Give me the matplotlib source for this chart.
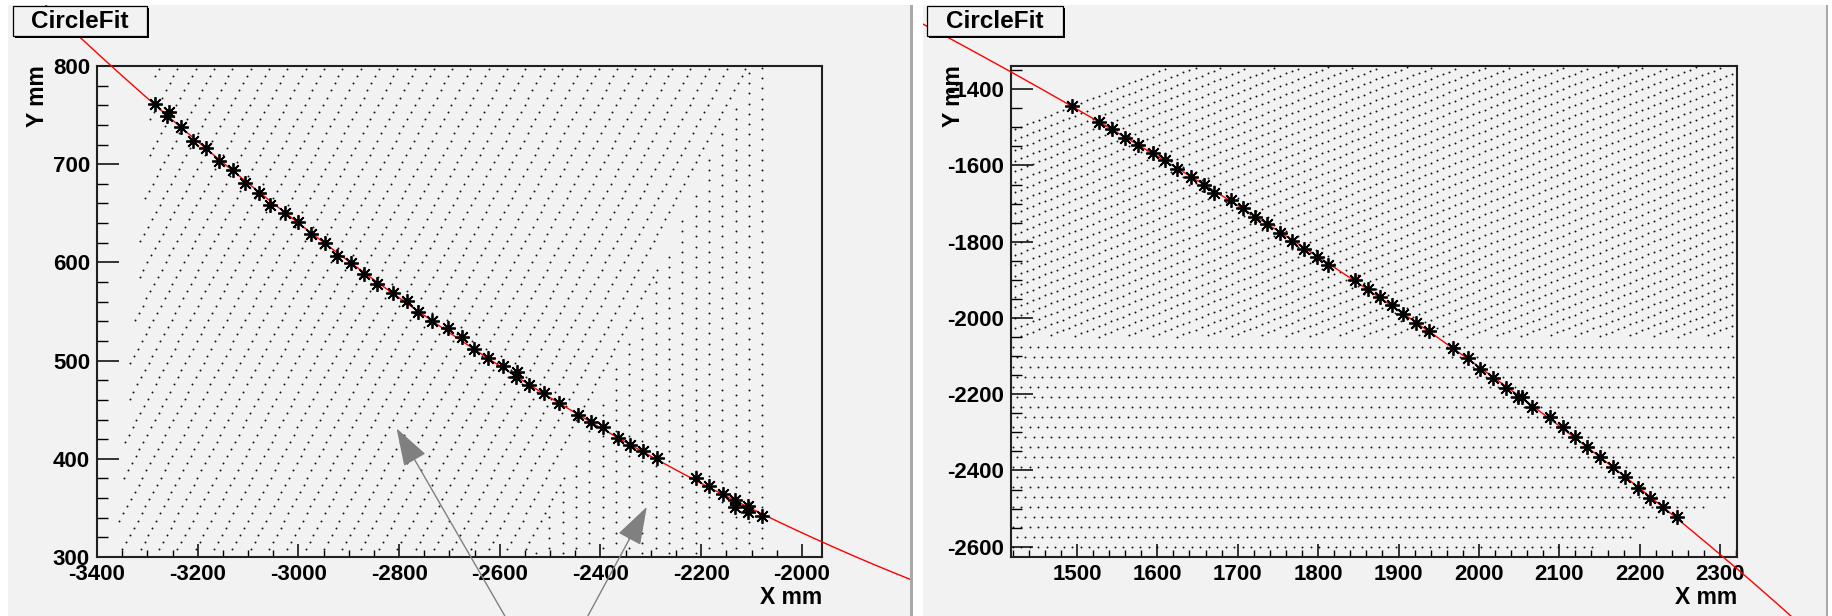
"""
CircleFit - two track views: hits (stars) along a particle track,
a circle fitted through them (red), on top of the detector wire map.
"""

import numpy as np
import matplotlib
matplotlib.use("Agg")
import matplotlib.pyplot as plt
from matplotlib.patches import Rectangle
from matplotlib.ticker import MultipleLocator

plt.rcParams["font.family"] = ["Liberation Sans", "DejaVu Sans"]
plt.rcParams["font.weight"] = "bold"
plt.rcParams["axes.unicode_minus"] = False

# ─── Hit positions (mm) ─────────────────────────────────────────
LEFT_X = [-3285, -3257, -3261, -3233, -3209, -3183, -3158, -3130, -3106, -3078,
          -3056, -3026, -3000, -2975, -2947, -2923, -2895, -2869, -2843, -2813,
          -2785, -2762, -2734, -2702, -2676, -2652, -2624, -2594, -2566, -2568,
          -2542, -2512, -2482, -2444, -2418, -2394, -2366, -2341, -2315, -2287,
          -2211, -2185, -2157, -2133, -2133, -2106, -2106, -2079]
LEFT_Y = [761, 753, 749, 738, 724, 716, 703, 694, 681, 671,
          658, 650, 641, 629, 620, 607, 599, 588, 578, 569,
          561, 549, 540, 533, 524, 512, 503, 494, 488, 483,
          475, 467, 457, 445, 437, 432, 421, 414, 408, 401,
          380, 372, 364, 358, 351, 352, 346, 342]

RIGHT_X = [1494, 1528, 1544, 1560, 1576, 1595, 1610, 1625, 1642, 1658,
           1671, 1692, 1707, 1722, 1737, 1753, 1768, 1783, 1799, 1812,
           1846, 1862, 1877, 1892, 1906, 1922, 1938, 1968, 1986, 2001,
           2018, 2034, 2048, 2054, 2066, 2088, 2104, 2119, 2135, 2151,
           2167, 2182, 2198, 2213, 2229, 2246]
RIGHT_Y = [-1444, -1485, -1505, -1527, -1547, -1566, -1586, -1609, -1630, -1651,
           -1671, -1690, -1712, -1734, -1753, -1778, -1797, -1819, -1841, -1861,
           -1900, -1924, -1946, -1967, -1989, -2014, -2035, -2078, -2104, -2133,
           -2158, -2184, -2207, -2208, -2234, -2261, -2286, -2312, -2338, -2364,
           -2391, -2417, -2445, -2471, -2495, -2523]

# arrows drawn on the left view: (tip, tail) in mm
LEFT_ARROWS = [((-2805, 431), (-2590, 240)),
               ((-2308, 351), (-2425, 240))]

TITLE = "CircleFit"
X_TITLE = "X mm"
Y_TITLE = "Y mm"

# ─── Look ────────────────────────────────────────────────────────
W, H = 1832, 616
CANVAS = "#f2f2f2"
BAR = "#a8a8a8"
FRAME = "#202020"
ARROW = "#808080"
DOT = "#111111"
FS = 16


def fx(px):
    return px / W


def fy(py):
    return 1 - py / H


def lattice(origin, a, b, n):
    """Regular grid of wire positions spanned by steps a and b."""
    i, j = np.meshgrid(np.arange(-n, n + 1), np.arange(-n, n + 1))
    x = origin[0] + i * a[0] + j * b[0]
    y = origin[1] + i * a[1] + j * b[1]
    return x.ravel(), y.ravel()


def fit_circle(x, y):
    """Algebraic (Kasa) least-squares circle fit."""
    x = np.asarray(x, float)
    y = np.asarray(y, float)
    A = np.column_stack([x, y, np.ones_like(x)])
    D, E, F = np.linalg.lstsq(A, -(x ** 2 + y ** 2), rcond=None)[0]
    cx, cy = -D / 2, -E / 2
    return cx, cy, np.sqrt(cx ** 2 + cy ** 2 - F)


# ─── Detector wire maps ─────────────────────────────────────────
# left view: slanted grid on the left, staggered columns on the right
lx1, ly1 = lattice((-2367, 797), (36.4, 0), (-7.6, -7.3), 90)
x_edge = -2521 + 0.87 * (ly1 - 318)
m = (ly1 >= 304) & (ly1 <= 799) & (lx1 >= -3363 + 0.157 * (ly1 - 314)) & (lx1 < x_edge - 6)
lx1, ly1 = lx1[m], ly1[m]

lx2, ly2 = lattice((-2079, 798), (-26.4, -5.2), (0, 10.4), 60)
m = (ly2 >= 304) & (ly2 <= 799) & (lx2 >= -2521 + 0.87 * (ly2 - 318)) & (lx2 <= -2075)
lx2, ly2 = lx2[m], ly2[m]

# right view: slanted rows on top, horizontal rows below
rx1, ry1 = lattice((2300, -1345), (7.5, 6.3), (0, -27.5), 140)
m = ((ry1 <= -1342) & (ry1 >= -2050) & (rx1 >= 1421) & (rx1 <= 2318)
     & (ry1 <= -1496 + 0.86 * (rx1 - 1420)))
rx1, ry1 = rx1[m], ry1[m]

rx2, ry2 = lattice((1420, -2076), (10.6, 0), (5.3, -26.2), 100)
x_right = np.interp(ry2, [-2600, -2574, -2522, -2496, -2470, -2416],
                    [2151, 2197, 2222, 2284, 2309, 2318])
m = (ry2 >= -2603) & (ry2 <= -2070) & (rx2 >= 1420) & (rx2 <= x_right)
rx2, ry2 = rx2[m], ry2[m]

# ─── Figure & canvases ──────────────────────────────────────────
fig = plt.figure(figsize=(W / 100, H / 100), dpi=100)
fig.patch.set_facecolor("white")

left_canvas = Rectangle((fx(8), 0), (910 - 8) / W, fy(5), transform=fig.transFigure,
                        facecolor=CANVAS, edgecolor="none", zorder=0)
right_canvas = Rectangle((fx(923), 0), (1826 - 923) / W, fy(5), transform=fig.transFigure,
                         facecolor=CANVAS, edgecolor="none", zorder=0)
fig.add_artist(left_canvas)
fig.add_artist(right_canvas)
for x0, x1 in [(910, 913), (1826, 1828)]:
    fig.add_artist(Rectangle((fx(x0), 0), (x1 - x0) / W, fy(5), transform=fig.transFigure,
                             facecolor=BAR, edgecolor="none", zorder=0))


def panel(frame_px, xlim, ylim, xmaj, xmin, ymaj, ymin):
    l, t, r, b = frame_px
    ax = fig.add_axes([fx(l), fy(b), (r - l) / W, (b - t) / H])
    ax.set_facecolor(CANVAS)
    ax.set_xlim(*xlim)
    ax.set_ylim(*ylim)
    ax.xaxis.set_major_locator(MultipleLocator(xmaj))
    ax.xaxis.set_minor_locator(MultipleLocator(xmin))
    ax.yaxis.set_major_locator(MultipleLocator(ymaj))
    ax.yaxis.set_minor_locator(MultipleLocator(ymin))
    for s in ax.spines.values():
        s.set_linewidth(1.5)
        s.set_color(FRAME)
    ax.tick_params(axis="x", which="major", direction="in", length=9.4, width=1.1,
                   labelsize=FS, pad=5)
    ax.tick_params(axis="x", which="minor", direction="in", length=4.7, width=1.0)
    ax.tick_params(axis="y", which="major", direction="in", length=15.8, width=1.1,
                   labelsize=FS, pad=5)
    ax.tick_params(axis="y", which="minor", direction="in", length=7.9, width=1.0)
    for lab in ax.get_xticklabels() + ax.get_yticklabels():
        lab.set_fontweight("bold")
    return ax


def draw_track(ax, xs, ys, canvas):
    cx, cy, r = fit_circle(xs, ys)
    ang = np.arctan2(np.asarray(ys) - cy, np.asarray(xs) - cx)
    t = np.linspace(ang.min() - 0.1, ang.max() + 0.1, 600)
    line, = ax.plot(cx + r * np.cos(t), cy + r * np.sin(t), color="red", lw=1.0, zorder=3)
    line.set_clip_path(canvas)
    ax.plot(xs, ys, ls="none", marker=(8, 2, 0), ms=10.5, mew=1.3, color="black",
            zorder=4, clip_on=False)


def title_box(x0, x1):
    y0, y1 = 6, 36
    fig.add_artist(Rectangle((fx(x0 + 2), fy(y1 + 2)), (x1 - x0) / W, (y1 - y0) / H,
                             transform=fig.transFigure, facecolor="black",
                             edgecolor="none", zorder=5))
    fig.add_artist(Rectangle((fx(x0), fy(y1)), (x1 - x0) / W, (y1 - y0) / H,
                             transform=fig.transFigure, facecolor=CANVAS,
                             edgecolor="black", lw=0.9, zorder=6))
    fig.text(fx((x0 + x1) / 2), fy((y0 + y1) / 2), TITLE, ha="center", va="center",
             fontsize=17.5, fontweight="bold", zorder=7)


# ─── Left view ──────────────────────────────────────────────────
ax1 = panel((97, 66, 822, 557), (-3400, -1960), (300, 800), 200, 50, 100, 20)
ax1.plot(lx1, ly1, "o", ms=1.4, mew=0, color=DOT, zorder=1)
ax1.plot(lx2, ly2, "o", ms=1.4, mew=0, color=DOT, zorder=1)
draw_track(ax1, LEFT_X, LEFT_Y, left_canvas)
for tip, tail in LEFT_ARROWS:
    ax1.annotate("", xy=tip, xytext=tail, annotation_clip=False,
                 arrowprops=dict(arrowstyle="-|>,head_length=24,head_width=8",
                                 mutation_scale=1, color=ARROW, lw=1.0,
                                 shrinkA=0, shrinkB=0), zorder=5)
title_box(13, 147)
fig.text(fx(38), fy(65), Y_TITLE, rotation=90, ha="center", va="top",
         fontsize=16.5, fontweight="bold")
fig.text(fx(822), fy(598), X_TITLE, ha="right", va="center",
         fontsize=16.5, fontweight="bold")

# ─── Right view ─────────────────────────────────────────────────
ax2 = panel((1011, 66, 1737, 557), (1418, 2321), (-2627, -1339), 100, 20, 200, 50)
ax2.plot(rx1, ry1, "o", ms=1.4, mew=0, color=DOT, zorder=1)
ax2.plot(rx2, ry2, "o", ms=1.4, mew=0, color=DOT, zorder=1)
draw_track(ax2, RIGHT_X, RIGHT_Y, right_canvas)
title_box(927, 1063)
fig.text(fx(954), fy(65), Y_TITLE, rotation=90, ha="center", va="top",
         fontsize=16.5, fontweight="bold")
fig.text(fx(1737), fy(598), X_TITLE, ha="right", va="center",
         fontsize=16.5, fontweight="bold")

fig.savefig("out.png", dpi=100, facecolor=fig.get_facecolor())
